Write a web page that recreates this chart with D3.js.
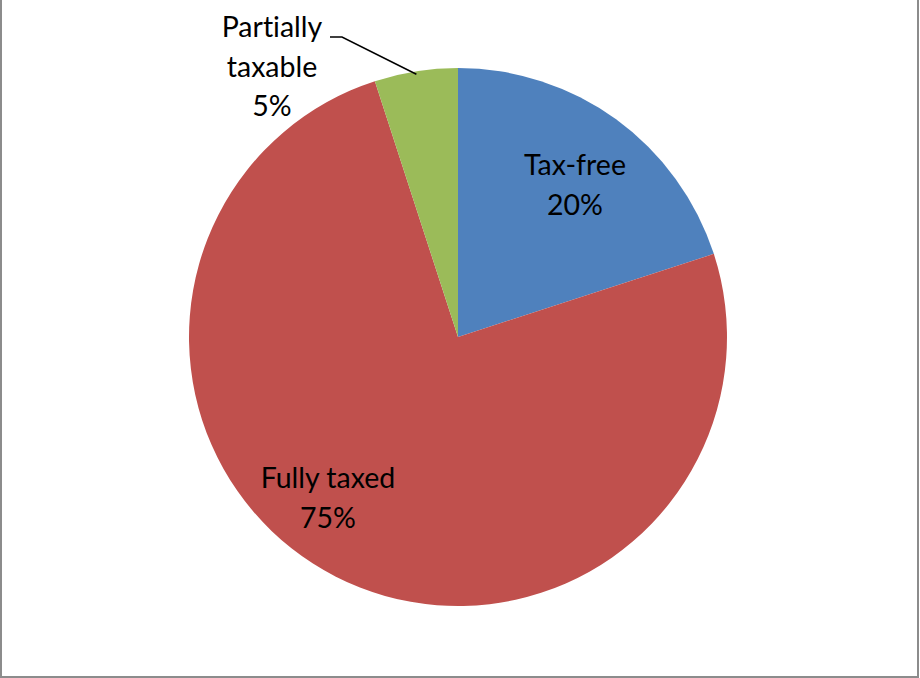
<!DOCTYPE html>
<html>
<head>
<meta charset="utf-8">
<script src="https://cdn.jsdelivr.net/npm/d3@7"></script>
<style>
  html, body { margin: 0; padding: 0; background: #fff; }
  svg { display: block; }
  text { font-variant-ligatures: none; font-feature-settings: "liga" 0; }
</style>
</head>
<body>
<svg id="chart" width="920" height="678"></svg>
<script>
// Share of income by tax treatment
const categories = ["Tax-free", "Fully taxed", "Partially taxable"];
const values = [20, 75, 5];
const colors = ["#4F81BD", "#C0504D", "#9BBB59"];

const svg = d3.select("#chart");
const cx = 458, cy = 337, r = 269;

// chart frame
svg.append("rect")
  .attr("x", 1).attr("y", -2)
  .attr("width", 917).attr("height", 679)
  .attr("fill", "#fff")
  .attr("stroke", "#8c8c8c").attr("stroke-width", 2);

const pie = d3.pie().sort(null).value(d => d)(values);
const arc = d3.arc().innerRadius(0).outerRadius(r);

const g = svg.append("g").attr("transform", `translate(${cx},${cy})`);

g.selectAll("path.slice")
  .data(pie)
  .join("path")
  .attr("class", "slice")
  .attr("d", arc)
  .attr("fill", (d, i) => colors[i]);

const total = d3.sum(values);
const pct = v => Math.round(v / total * 100) + "%";
const font = "Lato, 'Open Sans', sans-serif";
const fs = 28.5, lh = 39.5;

// labels inside the large slices
const inside = [
  { i: 0, x: 575, y: 175 },
  { i: 1, x: 328, y: 488 }
];
inside.forEach(o => {
  const t = svg.append("text")
    .attr("text-anchor", "middle")
    .attr("font-family", font)
    .attr("font-size", fs)
    .attr("fill", "#000");
  t.append("tspan").attr("x", o.x).attr("y", o.y).text(categories[o.i]);
  t.append("tspan").attr("x", o.x).attr("y", o.y + lh).text(pct(values[o.i]));
});

// outside label for the small slice, with leader line
const small = 2;
const mid = (pie[small].startAngle + pie[small].endAngle) / 2;
const edge = [cx + Math.sin(mid) * (r - 3), cy - Math.cos(mid) * (r - 3)];
svg.append("polyline")
  .attr("points", [[330, 37], [342, 37], edge].map(p => p.join(",")).join(" "))
  .attr("fill", "none")
  .attr("stroke", "#000")
  .attr("stroke-width", 1.5);

const t3 = svg.append("text")
  .attr("text-anchor", "middle")
  .attr("font-family", font)
  .attr("font-size", fs)
  .attr("fill", "#000");
const words = categories[small].split(" ");
t3.append("tspan").attr("x", 272).attr("y", 37).text(words[0]);
t3.append("tspan").attr("x", 272).attr("y", 37 + lh).text(words[1]);
t3.append("tspan").attr("x", 272).attr("y", 37 + 2 * lh).text(pct(values[small]));
</script>
</body>
</html>
